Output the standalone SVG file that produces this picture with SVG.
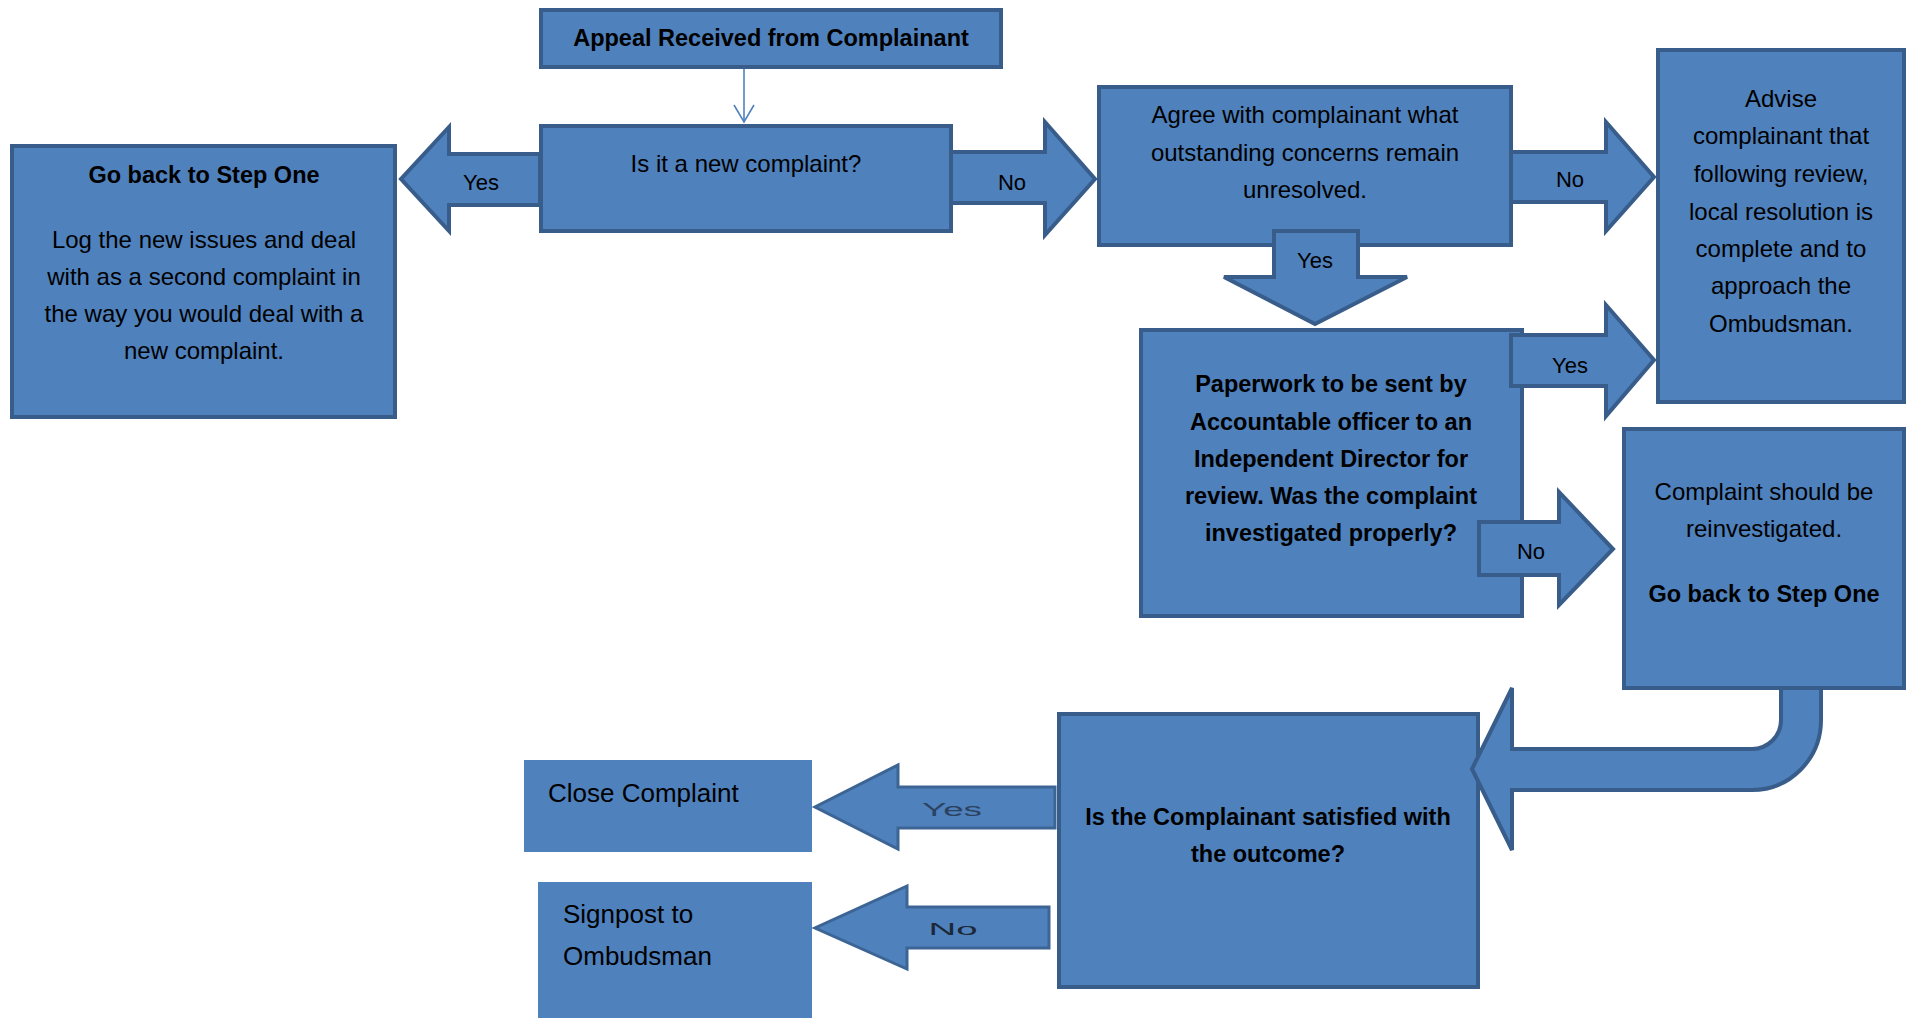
<svg xmlns="http://www.w3.org/2000/svg" width="1912" height="1018" viewBox="0 0 1912 1018">
<defs>
<style>
.box{fill:#4F81BD;stroke:#385D8A;stroke-width:4}
.plain{fill:#4F81BD;stroke:none}
.arr{fill:#4F81BD;stroke:#385D8A;stroke-width:4;stroke-linejoin:miter}
.arr2{fill:#4F81BD;stroke:#3C6494;stroke-width:3;stroke-linejoin:miter}
.thin{fill:none;stroke:#4F81BD;stroke-width:1.6}
text{font-family:"Liberation Sans",Arial,sans-serif;fill:#000}
.t{font-size:24px;text-anchor:middle}
.b{font-size:23.5px;font-weight:bold;text-anchor:middle}
.l{font-size:26px;text-anchor:start}
.lbl{font-size:22px;text-anchor:middle}
</style>
</defs>
<rect width="1912" height="1018" fill="#FFFFFF"/>

<g id="appeal">
<rect class="box" x="541" y="10" width="460" height="57"/>
<text class="b" x="771" y="46">Appeal Received from Complainant</text>
</g>

<g id="is-new">
<rect class="box" x="541" y="126" width="410" height="105"/>
<text class="t" x="746" y="172">Is it a new complaint?</text>
</g>

<g id="go-back-1">
<rect class="box" x="12" y="146" width="383" height="271"/>
<text class="b" x="204" y="183">Go back to Step One</text>
<text class="t" x="204" y="248">Log the new issues and deal</text>
<text class="t" x="204" y="285">with as a second complaint in</text>
<text class="t" x="204" y="322">the way you would deal with a</text>
<text class="t" x="204" y="359">new complaint.</text>
</g>

<g id="agree">
<rect class="box" x="1099" y="87" width="412" height="158"/>
<text class="t" x="1305" y="123">Agree with complainant what</text>
<text class="t" x="1305" y="161">outstanding concerns remain</text>
<text class="t" x="1305" y="198">unresolved.</text>
</g>

<g id="advise">
<rect class="box" x="1658" y="50" width="246" height="352"/>
<text class="t" x="1781" y="107">Advise</text>
<text class="t" x="1781" y="144">complainant that</text>
<text class="t" x="1781" y="182">following review,</text>
<text class="t" x="1781" y="220">local resolution is</text>
<text class="t" x="1781" y="257">complete and to</text>
<text class="t" x="1781" y="294">approach the</text>
<text class="t" x="1781" y="332">Ombudsman.</text>
</g>

<g id="paperwork">
<rect class="box" x="1141" y="330" width="381" height="286"/>
<text class="b" x="1331" y="392">Paperwork to be sent by</text>
<text class="b" x="1331" y="430">Accountable officer to an</text>
<text class="b" x="1331" y="467">Independent Director for</text>
<text class="b" x="1331" y="504">review. Was the complaint</text>
<text class="b" x="1331" y="541">investigated properly?</text>
</g>

<g id="reinvestigate">
<rect class="box" x="1624" y="429" width="280" height="259"/>
<text class="t" x="1764" y="500">Complaint should be</text>
<text class="t" x="1764" y="537">reinvestigated.</text>
<text class="b" x="1764" y="602">Go back to Step One</text>
</g>

<g id="satisfied">
<rect class="box" x="1059" y="714" width="419" height="273"/>
<text class="b" x="1268" y="825">Is the Complainant satisfied with</text>
<text class="b" x="1268" y="862">the outcome?</text>
</g>

<g id="close">
<rect class="plain" x="524" y="760" width="288" height="92"/>
<text class="l" x="548" y="802">Close Complaint</text>
</g>

<g id="signpost">
<rect class="plain" x="538" y="882" width="274" height="140"/>
<text class="l" x="563" y="923">Signpost to</text>
<text class="l" x="563" y="965">Ombudsman</text>
</g>

<g id="connectors">
<line class="thin" x1="744" y1="69" x2="744" y2="122"/>
<polyline class="thin" points="734,105 744,122 754,105"/>

<polygon class="arr" points="540,154 449,154 449,127 401,179 449,231 449,205 540,205"/>
<text class="lbl" x="481" y="190">Yes</text>

<polygon class="arr" points="951,152 1045,152 1045,122 1095,179 1045,235 1045,203 951,203"/>
<text class="lbl" x="1012" y="190">No</text>

<polygon class="arr" points="1511,152 1606,152 1606,122 1654,177 1606,231 1606,202 1511,202"/>
<text class="lbl" x="1570" y="187">No</text>

<polygon class="arr" points="1274,231 1358,231 1358,277 1407,277 1315,324 1224,277 1274,277"/>
<text class="lbl" x="1315" y="268">Yes</text>

<polygon class="arr" points="1511,335 1606,335 1606,305 1654,360 1606,416 1606,386 1511,386"/>
<text class="lbl" x="1570" y="373">Yes</text>

<polygon class="arr" points="1479,522 1559,522 1559,492 1613,549 1559,605 1559,575 1479,575"/>
<text class="lbl" x="1531" y="559">No</text>

<path class="arr" d="M1781,688 L1781,720 A29,29 0 0 1 1752,749 L1512,749 L1512,688 L1472,769 L1512,850 L1512,790 L1752,790 A69,70 0 0 0 1821,720 L1821,688 Z"/>

<polygon class="arr2" points="1055,787 898,787 898,765 815,807 898,849 898,828 1055,828"/>
<text x="952" y="816" font-size="18" text-anchor="middle" textLength="60" lengthAdjust="spacingAndGlyphs" style="fill:#2B4260">Yes</text>

<polygon class="arr2" points="1049,907 907,907 907,886 815,928 907,969 907,948 1049,948"/>
<text x="953" y="935" font-size="16" text-anchor="middle" textLength="49" lengthAdjust="spacingAndGlyphs" style="fill:#1C2838">No</text>
</g>
</svg>
